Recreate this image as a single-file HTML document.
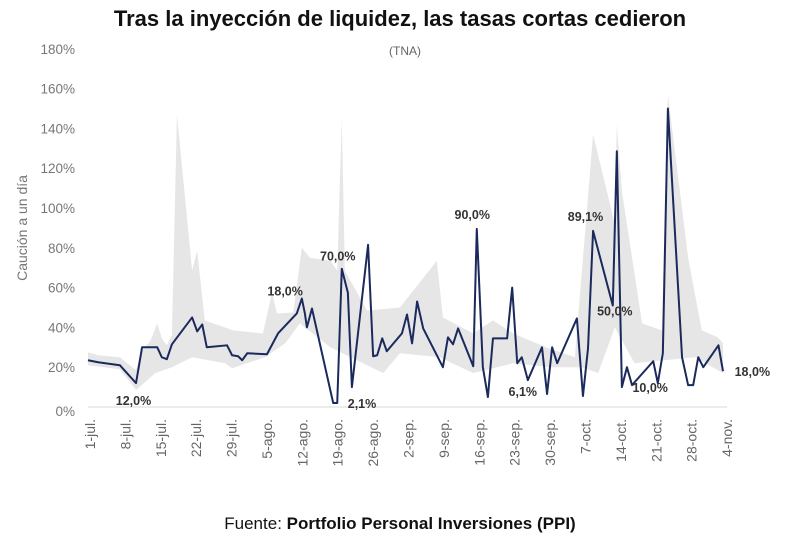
<!DOCTYPE html>
<html><head><meta charset="utf-8"><style>
body{margin:0;background:#fff;width:800px;height:537px;overflow:hidden;font-family:"Liberation Sans",sans-serif}
</style></head><body>
<svg id="chart" width="800" height="537" xmlns="http://www.w3.org/2000/svg" font-family="Liberation Sans, sans-serif">
<text x="400" y="26" text-anchor="middle" font-size="22" font-weight="bold" fill="#111">Tras la inyección de liquidez, las tasas cortas cedieron</text>
<text x="405" y="55" text-anchor="middle" font-size="12" fill="#666">(TNA)</text>
<text transform="translate(27,228) rotate(-90)" text-anchor="middle" font-size="14" fill="#777">Caución a un día</text>
<g id="band"></g><g id="axes"></g><g id="line"></g><g id="notes"></g>
<text x="400" y="529" text-anchor="middle" font-size="17" fill="#111">Fuente: <tspan font-weight="bold">Portfolio Personal Inversiones (PPI)</tspan></text>
</svg>
<script>
const lineDays=[-0.4,1.6,5.9,9.1,10.3,13.3,14.2,15.2,16.2,20.2,21.2,22.2,23.1,27.1,28.1,29.3,30.1,31.1,35,37.2,40.9,41.9,42.5,42.9,43.9,48.1,48.9,49.8,51,51.8,55,56,56.8,57.8,58.7,61.7,62.7,63.7,64.7,65.9,69.8,70.8,71.8,72.8,75.8,76.5,77.7,78.7,79.7,82.5,83.5,84.5,85.4,86.6,89.4,90.4,91.4,92.4,96.3,97.5,98.5,99.5,103.4,104.2,105.2,106.2,107.2,111.4,112.3,113.3,114.3,117.1,118.3,119.3,120.3,121.3,124.3,125.2];
const lineValues=[23.5,22.5,21,12,30,30,25,24,31.5,45,38,41.5,30,31,26,25.5,23.5,27,26.5,37,47,54.5,47,40,49.5,2,2,69.5,57.5,10,81.5,25.5,26,34.5,28,37,46.5,32,53,39.5,20,35,31.5,39.5,20.5,89.5,20,5,34.5,34.5,60,22,25,13.5,30,6.5,30,22,44.5,5.5,29.5,88.5,51,128.5,10,20,11,23,12,27,150,25,11,11,25,20,31,18];
const upperDays=[-0.4,1.6,5.9,9.1,10.3,11.9,13.3,14.2,15.2,16.2,17.2,20.2,21.2,22.7,28.3,34.2,36,37,40.2,41.9,43.5,47.5,48.9,49.8,50.4,54.8,61.3,68.6,69.8,75.8,79.7,83.7,90.2,95.9,99.5,103.8,104.2,105.2,109.2,113.1,114.3,118.3,121,124.2,125.2];
const upperValues=[27.5,26,25,18.5,28.5,33,42,34.5,31,36,147,68.5,78.5,43.5,38.5,37,57.5,47,47.5,80,75,73.5,68.5,145,68.5,48.5,50,73.5,45,37,43.5,37,30,25,137,92,142,108.5,42,38.5,157,75,38.5,35,32];
const lowerDays=[-0.4,5.9,9.1,12.9,16.2,20.2,26.7,28.1,34.6,38.6,41.5,47.5,58,61.3,69.2,75.8,83.7,91,97.3,100.5,103.8,107.7,119.7,125.2];
const lowerValues=[21,19,8.5,17,20,25,22,19.5,25,32,42,30,17,27,25,17,22,20,20,17,40,22,25,17];
const yTicks=[0,20,40,60,80,100,120,140,160,180];
const xTickLabels=["1-jul.","8-jul.","15-jul.","22-jul.","29-jul.","5-ago.","12-ago.","19-ago.","26-ago.","2-sep.","9-sep.","16-sep.","23-sep.","30-sep.","7-oct.","14-oct.","21-oct.","28-oct.","4-nov."];
const noteTexts=["12,0%","18,0%","70,0%","2,1%","90,0%","6,1%","89,1%","50,0%","10,0%","18,0%"];
const noteDays=[8.6,38.6,49,53.8,75.6,85.6,98,103.8,110.8,131];
const noteValues=[1,56,73.5,-0.5,94.5,5.5,93.5,46,7.5,15.5];

const NS="http://www.w3.org/2000/svg";
const X=d=>90+d*5.056, Y=v=>407-v*1.99;
function mk(t,p,attrs){const e=document.createElementNS(NS,t);for(const k in attrs)e.setAttribute(k,attrs[k]);p.appendChild(e);return e;}
const band=document.getElementById('band');
let pts=upperDays.map((d,i)=>X(d)+','+Y(upperValues[i]));
for(let i=lowerDays.length-1;i>=0;i--)pts.push(X(lowerDays[i])+','+Y(lowerValues[i]));
const bp=mk('polygon',band,{points:pts.join(' '),fill:'#e6e6e6'});


const axes=document.getElementById('axes');
const ax=mk('line',axes,{x1:88,x2:727,y1:Y(0),y2:Y(0),stroke:'#d8d8d8','stroke-width':1});


yTicks.forEach(v=>{const t=mk('text',axes,{x:75,y:Y(v)+(v===0?9:5),'text-anchor':'end','font-size':13.5,fill:'#777'});t.textContent=v+'%';

});
xTickLabels.forEach((s,i)=>{const x=X(i*7)+5;const t=mk('text',axes,{transform:`translate(${x},419) rotate(-90)`,'text-anchor':'end','font-size':14,fill:'#666'});t.textContent=s;

});
const ln=mk('polyline',document.getElementById('line'),{points:lineDays.map((d,i)=>X(d)+','+Y(lineValues[i])).join(' '),fill:'none',stroke:'#1b2a5c','stroke-width':2,'stroke-linejoin':'round'});


const notes=document.getElementById('notes');
noteTexts.forEach((s,i)=>{const t=mk('text',notes,{x:X(noteDays[i]),y:Y(noteValues[i]),'text-anchor':'middle','font-size':12.5,'font-weight':'bold',fill:'#333'});t.textContent=s;

});
</script>
</body></html>
